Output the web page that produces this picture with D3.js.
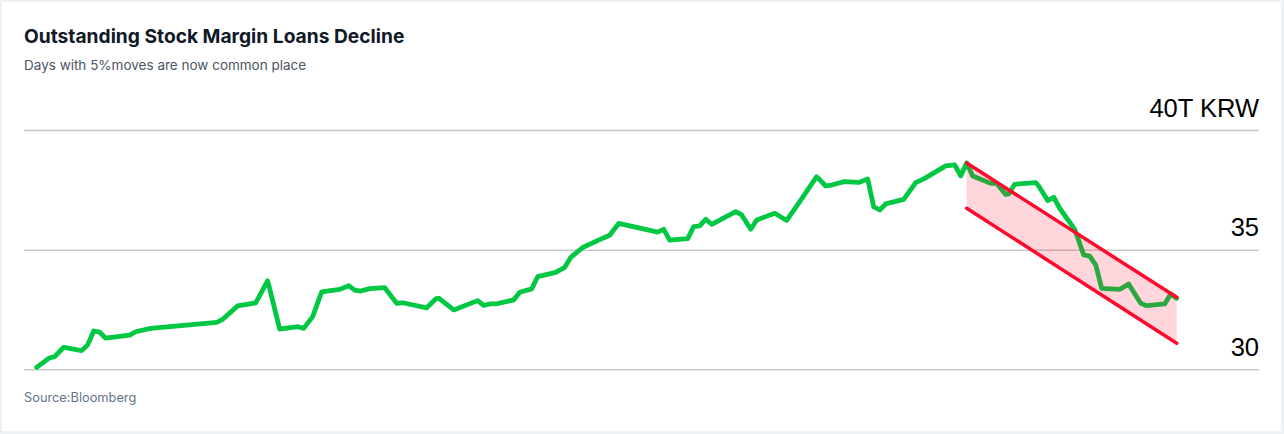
<!DOCTYPE html>
<html>
<head>
<meta charset="utf-8">
<script src="https://cdn.jsdelivr.net/npm/d3@7"></script>
<style>
  html, body { margin: 0; padding: 0; background: #eef2f6; }
  #card { position: absolute; left: 2px; top: 2px; width: 1279px; height: 429px; background: #fff; }
  svg { position: absolute; left: 0; top: 0; }
</style>
</head>
<body>
<div id="card"></div>
<svg id="chart" width="1284" height="434"></svg>
<script>
// ---- data ----
const days = [0,4,6,9,15,17,19,21,23,31,33,38,60,62,67,73,77,81,87,89,92,95,101,104,106,108,111,116,120,122,130,133,134,139,147,149,151,153,159,161,165,167,173,176,178,179,182,188,191,194,207,209,211,217,219,221,223,225,233,235,238,240,246,250,254,260,263,265,269,274,277,279,281,283,289,293,296,303,306,308,310,312,318,320,323,324,326,333,334,337,339,341,346,349,351,353,355,361,364,368,370,376,378,380];
const loans = [30.08,30.46,30.53,30.92,30.78,31.02,31.60,31.55,31.30,31.43,31.57,31.71,31.96,32.09,32.65,32.78,33.70,31.68,31.78,31.71,32.20,33.24,33.34,33.49,33.31,33.27,33.37,33.41,32.76,32.78,32.57,32.94,32.97,32.48,32.87,32.67,32.73,32.73,32.90,33.22,33.36,33.87,34.05,34.26,34.67,34.78,35.09,35.44,35.60,36.10,35.73,35.85,35.40,35.46,35.96,35.99,36.27,36.06,36.59,36.45,35.85,36.24,36.52,36.22,36.94,38.05,37.66,37.70,37.84,37.81,37.95,36.79,36.66,36.91,37.10,37.80,37.98,38.50,38.54,38.08,38.62,38.08,37.77,37.77,37.31,37.33,37.73,37.80,37.66,37.05,37.19,36.73,35.85,34.78,34.73,34.36,33.38,33.34,33.56,32.76,32.66,32.73,33.15,32.97];
const channelDays = [310, 380];
const channelUpper = [38.62, 33.01];
const channelLower = [36.73, 31.09];
const tickValues = [30, 35, 40];
const tickLabels = ["30", "35", "40T KRW"];

// ---- layout ----
const svg = d3.select("#chart");
const gridLeft = 24, gridRight = 1259;
const x = d3.scaleLinear().domain([0, 380]).range([36.7, 1176.7]);
const y = d3.scaleLinear().domain([30, 40]).range([369.3, 130]);

// title
svg.append("text").attr("x", 24).attr("y", 43)
  .attr("font-family", "Inter, 'Liberation Sans', sans-serif")
  .attr("font-weight", 700).attr("font-size", 19.2).attr("fill", "#111827")
  .text("Outstanding Stock Margin Loans Decline");
svg.append("text").attr("x", 24).attr("y", 70)
  .attr("font-family", "Inter, 'Liberation Sans', sans-serif")
  .attr("font-size", 13.5).attr("fill", "#4b5563")
  .text("Days with 5%moves are now common place");
svg.append("text").attr("x", 24).attr("y", 402)
  .attr("font-family", "Inter, 'Liberation Sans', sans-serif")
  .attr("font-size", 12.8).attr("fill", "#64748b")
  .text("Source:Bloomberg");

// y axis (grid + right labels)
const axis = d3.axisLeft(y).tickValues(tickValues)
  .tickSize(gridRight - gridLeft)
  .tickFormat((d, i) => tickLabels[tickValues.indexOf(d)]);
const gAxis = svg.append("g").attr("transform", `translate(${gridRight},0)`).call(axis);
gAxis.select(".domain").remove();
gAxis.selectAll(".tick line").attr("stroke", "#c8c8c8").attr("stroke-width", 1.5);
gAxis.selectAll(".tick text")
  .attr("x", 0).attr("dy", -14).attr("text-anchor", "end")
  .attr("font-family", "'Liberation Sans', Arial, sans-serif")
  .attr("font-size", 25.5).attr("fill", "#000");

// main line
const pts = days.map((d, i) => [d, loans[i]]);
const line = d3.line().x(d => x(d[0])).y(d => y(d[1]));
svg.append("path").datum(pts)
  .attr("d", line)
  .attr("fill", "none").attr("stroke", "#00c843")
  .attr("stroke-width", 4.8).attr("stroke-linejoin", "round").attr("stroke-linecap", "round");

// channel
const chan = channelDays.map((d, i) => ({ d, hi: channelUpper[i], lo: channelLower[i] }));
const area = d3.area().x(c => x(c.d)).y0(c => y(c.lo)).y1(c => y(c.hi));
svg.append("path").datum(chan).attr("d", area)
  .attr("fill", "#ff0a32").attr("fill-opacity", 0.17);
const upper = d3.line().x(c => x(c.d)).y(c => y(c.hi));
const lower = d3.line().x(c => x(c.d)).y(c => y(c.lo));
[upper, lower].forEach(gen => {
  svg.append("path").datum(chan).attr("d", gen)
    .attr("fill", "none").attr("stroke", "#ff0a2d")
    .attr("stroke-width", 3.5).attr("stroke-linecap", "round");
});
</script>
</body>
</html>
